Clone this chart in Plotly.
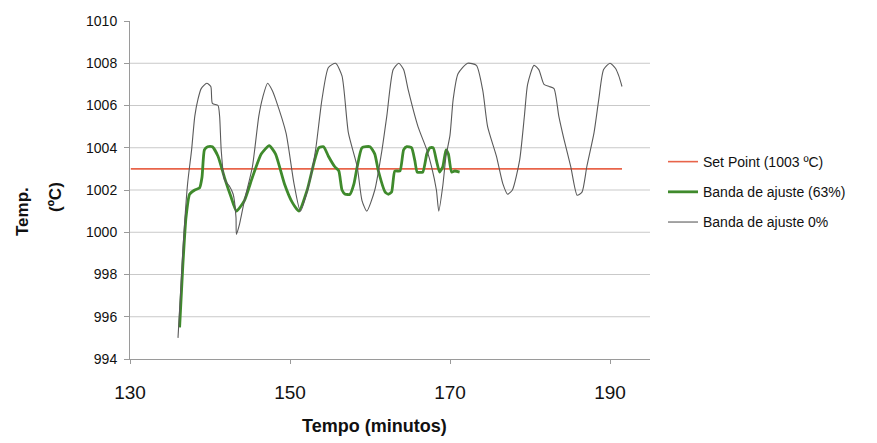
import plotly.graph_objects as go

# ---- data ----
setpoint_x = [130.1, 191.5]
setpoint_y = [1003, 1003]

banda63_x = [136.2, 136.6, 137.0, 137.45, 138.1, 138.7, 139.0, 139.3, 139.7, 140.3,
             141.0, 141.8, 142.6, 143.3, 144.3, 145.3, 146.4, 147.4, 148.2, 149.3,
             150.3, 151.1, 152.15, 153.0, 153.6, 154.2, 154.8, 155.6, 156.1, 156.5,
             156.9, 157.5, 158.0, 158.4, 159.0, 160.0, 160.6, 161.05, 161.9, 162.3,
             162.7, 163.1, 163.75, 164.2, 164.6, 165.2, 165.6, 165.9, 166.6, 167.1,
             167.5, 167.9, 168.3, 168.7, 169.1, 169.5, 169.8, 170.2, 170.6, 171.2]
banda63_y = [995.5, 998.4, 1000.7, 1001.8, 1002.0, 1002.1, 1002.6, 1003.9, 1004.05, 1004.05,
             1003.6, 1002.6, 1001.7, 1001.0, 1001.5, 1002.6, 1003.7, 1004.1, 1003.7, 1002.3,
             1001.4, 1001.0, 1002.0, 1003.3, 1004.0, 1004.05, 1003.6, 1003.1, 1002.9, 1002.0,
             1001.8, 1001.8, 1002.3, 1003.1, 1004.0, 1004.05, 1003.7, 1002.9, 1001.9, 1001.8,
             1001.9, 1002.9, 1002.9, 1003.9, 1004.05, 1004.0, 1003.4, 1002.85, 1002.85, 1003.7,
             1004.0, 1004.0, 1003.4, 1002.85, 1003.1, 1003.9, 1003.7, 1002.85, 1002.9, 1002.85]

banda0_x = [136.0, 136.3, 136.6, 137.2, 137.7, 138.1, 138.5, 138.9, 139.6, 140.1,
            140.3, 141.0, 141.2, 141.4, 141.8, 142.4, 142.9, 143.25, 143.3, 143.7,
            144.3, 145.3, 146.1, 146.6, 147.2, 147.8, 148.2, 149.5, 150.5, 151.3,
            152.4, 153.2, 154.0, 154.8, 155.7, 156.5, 157.3, 158.4, 159.0, 159.6,
            160.6, 161.5, 162.1, 162.9, 163.6, 164.2, 164.8, 166.0, 167.1, 167.7,
            168.3, 168.6, 169.1, 169.5, 170.0, 170.4, 171.0, 172.2, 173.3, 174.1,
            174.7, 175.8, 176.6, 177.2, 177.8, 178.7, 179.3, 179.7, 180.5, 181.1,
            181.75, 182.4, 183.0, 183.6, 184.25, 185.1, 185.9, 186.5, 187.1, 188.0,
            188.6, 189.2, 190.0, 190.7, 191.1, 191.5]
banda0_y = [995.0, 997.0, 999.1, 1002.3, 1003.9, 1005.5, 1006.3, 1006.8, 1007.05, 1006.9,
            1006.1, 1006.0, 1005.5, 1003.9, 1002.5, 1002.2, 1001.8, 1000.7, 999.9, 1000.4,
            1001.5, 1003.1, 1005.5, 1006.4, 1007.05, 1006.7, 1006.3, 1004.7, 1002.3, 1001.0,
            1002.3, 1003.9, 1006.3, 1007.8, 1008.0, 1007.4, 1004.7, 1003.1, 1001.5, 1001.0,
            1002.0, 1003.9, 1005.5, 1007.7, 1008.0, 1007.7, 1006.7, 1005.0, 1003.9, 1003.1,
            1002.0, 1001.0, 1002.2, 1003.6, 1004.6, 1006.3, 1007.5, 1008.0, 1007.9, 1006.7,
            1005.0, 1003.6, 1002.3, 1001.8, 1002.0, 1003.4, 1005.5, 1007.0, 1007.9, 1007.7,
            1007.0, 1006.9, 1006.8, 1005.5, 1004.4, 1003.1, 1001.75, 1001.9, 1003.1, 1004.7,
            1006.3, 1007.7, 1008.0, 1007.75, 1007.4, 1006.9]

x_ticks = [130, 150, 170, 190]
y_ticks = [994, 996, 998, 1000, 1002, 1004, 1006, 1008, 1010]
grid_vals = [996, 998, 1000, 1002, 1004, 1006, 1008]

FONT = "Liberation Sans, Arial, sans-serif"

fig = go.Figure()
fig.add_trace(go.Scatter(x=setpoint_x, y=setpoint_y, mode="lines",
                         name="Set Point (1003 ºC)", legendgroup="a",
                         line=dict(color="#e8644a", width=1.6)))
fig.add_trace(go.Scatter(x=banda63_x, y=banda63_y, mode="lines",
                         name="Banda de ajuste (63%)", legendgroup="b",
                         line=dict(color="#3f8a2c", width=2.8, shape="spline", smoothing=0.5)))
fig.add_trace(go.Scatter(x=banda0_x, y=banda0_y, mode="lines",
                         name="Banda de ajuste 0%", legendgroup="c",
                         line=dict(color="#5a5a5a", width=1.1, shape="spline", smoothing=0.6)))

for v in grid_vals:
    fig.add_hline(y=v, line=dict(color="#c9c9c9", width=1), layer="below")

fig.update_layout(
    width=877, height=443,
    margin=dict(l=130, r=227, t=21, b=84),
    paper_bgcolor="white", plot_bgcolor="white",
    font=dict(family=FONT, color="#111"),
    showlegend=True,
    legend=dict(x=1.025, xanchor="left", y=0.494, yanchor="middle",
                font=dict(size=14, family=FONT, color="#111"),
                tracegroupgap=9, traceorder="grouped",
                bgcolor="rgba(0,0,0,0)"),
    xaxis=dict(range=[130, 195], tickvals=x_ticks, showgrid=False, zeroline=False,
               showline=True, linecolor="#9a9a9a", linewidth=1,
               ticks="outside", ticklen=4, tickcolor="#9a9a9a",
               tickfont=dict(size=19, family=FONT, color="#111"),
               ticklabelstandoff=12),
    yaxis=dict(range=[994, 1010], tickvals=y_ticks, showgrid=False, zeroline=False,
               showline=True, linecolor="#9a9a9a", linewidth=1,
               ticks="outside", ticklen=5, tickcolor="#9a9a9a",
               tickfont=dict(size=14, family=FONT, color="#111"),
               ticklabelstandoff=4),
    annotations=[
        dict(text="<b>Tempo (minutos)</b>", x=(374 - 130) / 520, y=(359 - 426) / 338,
             xref="paper", yref="paper", showarrow=False,
             xanchor="center", yanchor="middle",
             font=dict(size=18, family=FONT, color="#111")),
        dict(text="<b>Temp.</b>", x=(22 - 130) / 520, y=(359 - 212) / 338,
             xref="paper", yref="paper", showarrow=False, textangle=-90,
             xanchor="center", yanchor="middle",
             font=dict(size=17, family=FONT, color="#111")),
        dict(text="<b>(ºC)</b>", x=(55 - 130) / 520, y=(359 - 197) / 338,
             xref="paper", yref="paper", showarrow=False, textangle=-90,
             xanchor="center", yanchor="middle",
             font=dict(size=17, family=FONT, color="#111")),
    ],
)

fig.write_html("out.html")
